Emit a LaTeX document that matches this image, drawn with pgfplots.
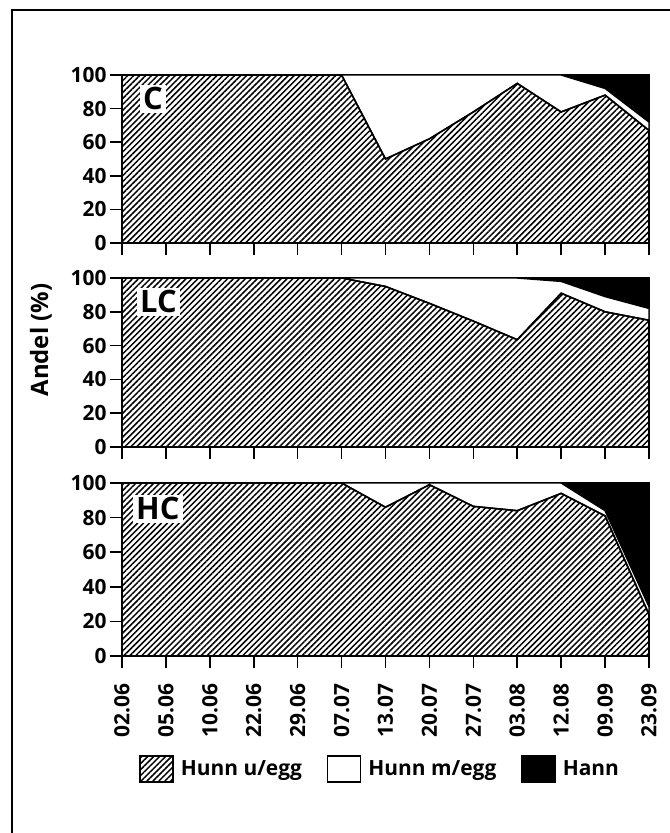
\documentclass[border=0pt]{standalone}
\usepackage{fontspec}
\setmainfont{Open Sans}
\usepackage{pgfplots}
\usepackage{pgfplotstable}
\pgfplotsset{compat=1.18}
\usetikzlibrary{patterns.meta}

% i = date index, u = Hunn u/egg, m = Hunn m/egg, h = Hann (%)
\pgfplotstableread{
i u m h
0 100 0 0
1 100 0 0
2 100 0 0
3 100 0 0
4 100 0 0
5 100 0 0
6 50 50 0
7 62 38 0
8 78 22 0
9 95 5 0
10 78 22 0
11 88 4 8
12 67 5 28
}\tabC
\pgfplotstableread{
i u m h
0 100 0 0
1 100 0 0
2 100 0 0
3 100 0 0
4 100 0 0
5 100 0 0
6 95 5 0
7 85 15 0
8 74.5 25.5 0
9 63.5 36.5 0
10 91 7 2
11 80 9 11
12 75 7 18
}\tabLC
\pgfplotstableread{
i u m h
0 100 0 0
1 100 0 0
2 100 0 0
3 100 0 0
4 100 0 0
5 100 0 0
6 86 14 0
7 99 1 0
8 86.5 13.5 0
9 84 16 0
10 94 6 0
11 81 3 16
12 24 4.5 71.5
}\tabHC

\pgfplotsset{
  panel/.style={
    scale only axis, width=527bp,
    xmin=0, xmax=12, ymin=0, ymax=100,
    xtick={0,...,12}, ytick={0,20,...,100},
    tick align=outside, xtick pos=bottom, ytick pos=left,
    major tick length=12bp,
    axis line style={line width=1.6bp},
    every tick/.style={black, line width=1.6bp},
    tick label style={font=\fontsize{21}{21}\selectfont\bfseries},
    /pgf/number format/assume math mode=true,
    stack plots=y,
  },
}
\tikzset{
  hatch/.style={draw=black, line width=1.5bp,
    pattern={Lines[angle=45,distance=4.2bp,line width=1.5bp]}},
  egg/.style={draw=black, line width=1.5bp, fill=white},
  hann/.style={draw=black, line width=1.5bp, fill=black},
  plab/.style={fill=white, inner sep=3bp, anchor=base west,
    font=\fontsize{31}{31}\selectfont\bfseries},
}

\begin{document}
\begin{tikzpicture}
\useasboundingbox (0bp,0bp) rectangle (670bp,833bp);
\clip (0bp,0bp) rectangle (670bp,833bp);
\draw[line width=1.6bp] (12bp,-20bp) -- (12bp,823bp) -- (700bp,823bp);

\begin{axis}[panel, name=pC, at={(122bp,590bp)}, anchor=south west, height=168bp,
  xticklabels={}]
\addplot[hatch] table[x=i,y=u]{\tabC} \closedcycle;
\addplot[egg] table[x=i,y=m]{\tabC} \closedcycle;
\addplot[hann] table[x=i,y=h]{\tabC} \closedcycle;
\end{axis}

\begin{axis}[panel, name=pLC, at={(122bp,386bp)}, anchor=south west, height=169bp,
  xticklabels={},
  ylabel={Andel (\%)},
  ylabel style={at={(axis description cs:-0.154,0.633)}, anchor=center,
    font=\fontsize{24}{24}\selectfont\bfseries}]
\addplot[hatch] table[x=i,y=u]{\tabLC} \closedcycle;
\addplot[egg] table[x=i,y=m]{\tabLC} \closedcycle;
\addplot[hann] table[x=i,y=h]{\tabLC} \closedcycle;
\end{axis}

\begin{axis}[panel, name=pHC, at={(122bp,177bp)}, anchor=south west, height=173bp,
  xticklabels={02.06,05.06,10.06,22.06,29.06,07.07,13.07,20.07,27.07,03.08,12.08,09.09,23.09},
  x tick label style={rotate=90, anchor=east},
  xticklabel shift={12bp},
  legend style={draw=none, fill=none, at={(axis description cs:0.027,-0.652)},
    anchor=west, legend columns=3,
    /tikz/every even column/.append style={column sep=23bp},
    /tikz/every odd column/.append style={column sep=5bp},
    font=\fontsize{21}{21}\selectfont\bfseries},
  legend image code/.code={\draw[#1] (0bp,-13bp) rectangle (33bp,13bp);}]
\addplot[hatch] table[x=i,y=u]{\tabHC} \closedcycle;
\addlegendentry{Hunn u/egg}
\addplot[egg] table[x=i,y=m]{\tabHC} \closedcycle;
\addlegendentry{Hunn m/egg}
\addplot[hann] table[x=i,y=h]{\tabHC} \closedcycle;
\addlegendentry{Hann}
\end{axis}

% panel labels on white knock-outs
\node[plab] at ([xshift=18bp,yshift=133bp]pC.south west) {C};
\node[plab] at ([xshift=15bp,yshift=134bp]pLC.south west) {LC};
\node[plab] at ([xshift=11bp,yshift=136bp]pHC.south west) {HC};
\end{tikzpicture}
\end{document}
